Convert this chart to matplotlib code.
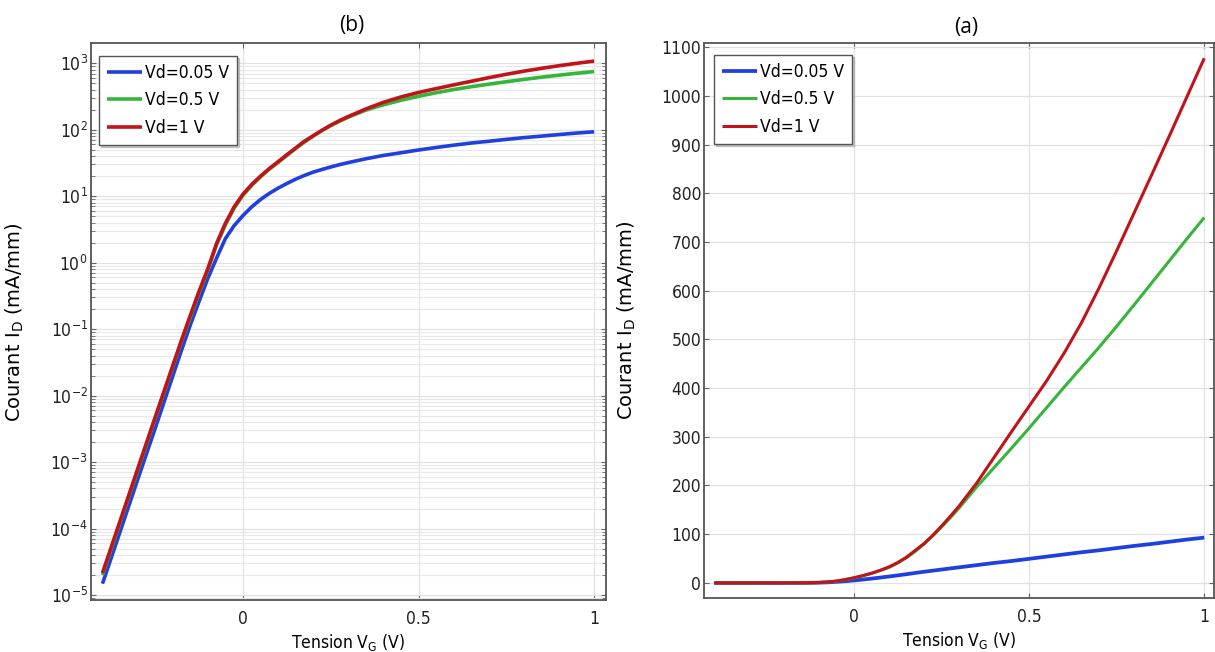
import numpy as np
import matplotlib
matplotlib.use("Agg")
import matplotlib.pyplot as plt
from matplotlib.ticker import LogLocator, NullFormatter, MultipleLocator

# gate voltage (V)
vg = [-0.4, -0.35, -0.3, -0.25, -0.2, -0.175, -0.15, -0.125, -0.1, -0.075,
      -0.05, -0.025, 0.0, 0.025, 0.05, 0.075, 0.1, 0.125, 0.15, 0.175, 0.2,
      0.225, 0.25, 0.275, 0.3, 0.35, 0.4, 0.45, 0.5, 0.55, 0.6, 0.65, 0.7,
      0.75, 0.8, 0.85, 0.9, 0.95, 1.0]

# drain current (mA/mm)
id_005 = [1.48e-5, 8.9e-5, 5.4e-4, 3.2e-3, 1.95e-2, 4.8e-2, 0.115, 0.26, 0.58, 1.17,
          2.3, 3.6, 5.1, 6.9, 8.9, 11.0, 13.2, 15.5, 18.0, 20.5, 23.0,
          25.2, 27.5, 29.8, 32.0, 36.5, 41.0, 45.0, 49.5, 54.0, 58.5, 63.0, 67.0,
          71.5, 76.0, 80.0, 84.5, 89.0, 93.0]
id_05 = [2.0e-5, 1.22e-4, 7.4e-4, 4.5e-3, 2.7e-2, 6.5e-2, 0.15, 0.35, 0.77, 1.85,
         3.7, 6.6, 10.3, 14.5, 19.5, 25.5, 32.0, 41.0, 52.0, 65.0, 80.0,
         97.0, 115.0, 134.0, 154.0, 197.0, 237.0, 277.0, 318.0, 360.0, 402.0, 443.0, 484.0,
         527.0, 571.0, 616.0, 661.0, 706.0, 750.0]
id_1 = [2.14e-5, 1.29e-4, 7.8e-4, 4.7e-3, 2.8e-2, 6.8e-2, 0.16, 0.37, 0.81, 1.95,
        3.9, 6.9, 10.7, 15.0, 20.0, 26.0, 33.0, 42.0, 53.0, 67.0, 81.0,
        98.0, 117.0, 137.0, 158.0, 205.0, 258.0, 311.0, 363.0, 415.0, 472.0, 535.0, 606.0,
        682.0, 760.0, 838.0, 917.0, 997.0, 1077.0]

labels = ["Vd=0.05 V", "Vd=0.5 V", "Vd=1 V"]
colors = ["#1f3fe0", "#35b53a", "#c0141a"]

plt.rcParams['font.family'] = ['DejaVu Sans']
plt.rcParams['font.stretch'] = 'condensed'

fig = plt.figure(figsize=(12.15, 6.52), dpi=100)
ax_b = fig.add_axes([0.0745, 0.0798, 0.4243, 0.8538])
ax_a = fig.add_axes([0.5794, 0.0828, 0.4198, 0.8517])

for ax, lw in [(ax_b, [2.6, 2.6, 2.6]), (ax_a, [2.7, 2.2, 2.2])]:
    for y, c, l, w in zip([id_005, id_05, id_1], colors, labels, lw):
        ax.plot(vg, y, color=c, lw=w, label=l, solid_capstyle='butt')

    ax.set_xticks([0, 0.5, 1])
    ax.set_xticklabels(['0', '0.5', '1'])
    ax.tick_params(which='both', direction='in', top=True, right=True,
                   colors='#666666', labelcolor='#222222', labelsize=12.5)
    ax.tick_params(axis='x', pad=7)
    ax.tick_params(axis='y', pad=2)
    for s in ax.spines.values():
        s.set_color('#555555')
        s.set_linewidth(1.3)
    ax.set_xlabel('Tension V$_{\\mathdefault{G}}$ (V)', fontsize=12.5, labelpad=3)
    ax.set_ylabel('Courant I$_{\\mathdefault{D}}$ (mA/mm)', fontsize=14,
                  family='DejaVu Sans', stretch='normal')
    ax.set_axisbelow(True)

# (b) log scale
ax_b.set_yscale('log')
ax_b.set_xlim(-0.434, 1.034)
ax_b.set_ylim(10 ** -5.075, 10 ** 3.3)
ax_b.yaxis.set_major_locator(LogLocator(base=10, numticks=20))
ax_b.yaxis.set_minor_locator(LogLocator(base=10, subs=np.arange(2, 10), numticks=100))
ax_b.yaxis.set_minor_formatter(NullFormatter())
ax_b.grid(True, which='major', color='#e2e2e2', lw=0.9)
ax_b.grid(True, which='minor', axis='y', color='#e8e8e8', lw=0.8)
ax_b.tick_params(which='minor', length=3)
ax_b.yaxis.set_label_coords(-0.125, 0.5)

# (a) linear scale
ax_a.set_xlim(-0.429, 1.028)
ax_a.set_ylim(-31, 1109)
ax_a.yaxis.set_major_locator(MultipleLocator(100))
ax_a.grid(True, color='#e2e2e2', lw=0.9)
ax_a.yaxis.set_label_coords(-0.13, 0.5)

leg_kw = dict(fontsize=12.5, handlelength=2.0, handletextpad=0.2, borderpad=0.45,
              labelspacing=0.55, fancybox=False, edgecolor='#555555', framealpha=1,
              shadow={'ox': 1.5, 'oy': -1.5, 'color': '0.6', 'alpha': 0.5},
              borderaxespad=0)
lb = ax_b.legend(loc='upper left', bbox_to_anchor=(0.0165, 0.977), **leg_kw)
la = ax_a.legend(loc='upper left', bbox_to_anchor=(0.0196, 0.978), **leg_kw)
for lg in (lb, la):
    lg.get_frame().set_linewidth(1.0)

fig.text(352 / 1215, 1 - 26 / 652, '(b)', ha='center', va='center',
         fontsize=15, family=['Open Sans', 'DejaVu Sans'], stretch='normal')
fig.text(966 / 1215, 1 - 27 / 652, '(a)', ha='center', va='center',
         fontsize=15, family=['Open Sans', 'DejaVu Sans'], stretch='normal')

fig.savefig('out.png', dpi=100)
